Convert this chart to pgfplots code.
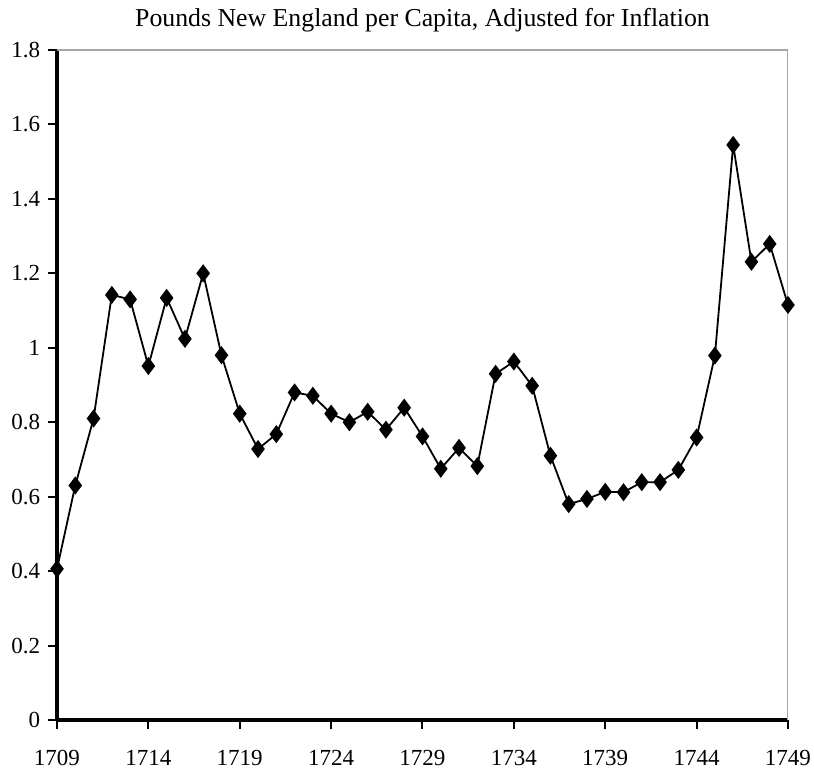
\documentclass[border=0pt]{standalone}
\usepackage{pgfplots}
\pgfplotsset{compat=1.18}
\usepackage{fontspec}
\setmainfont{Liberation Serif}
\usetikzlibrary{calc}

\pgfplotstableread{
year value
1709 0.406
1710 0.630
1711 0.810
1712 1.142
1713 1.130
1714 0.951
1715 1.134
1716 1.024
1717 1.200
1718 0.980
1719 0.823
1720 0.728
1721 0.768
1722 0.880
1723 0.871
1724 0.823
1725 0.800
1726 0.828
1727 0.780
1728 0.839
1729 0.762
1730 0.675
1731 0.731
1732 0.682
1733 0.930
1734 0.963
1735 0.898
1736 0.710
1737 0.580
1738 0.594
1739 0.613
1740 0.612
1741 0.639
1742 0.639
1743 0.672
1744 0.759
1745 0.979
1746 1.545
1747 1.231
1748 1.279
1749 1.115
}\pounds

\begin{document}
\begin{tikzpicture}
\fontsize{11.3}{13.5}\selectfont
\begin{axis}[
  width=365.5pt, height=335pt,
  scale only axis,
  xmin=1709, xmax=1749,
  ymin=0, ymax=1.8,
  xtick={1709,1714,...,1749},
  ytick={0,0.2,...,1.8},
  /pgf/number format/1000 sep={},
  /pgf/number format/assume math mode=true,
  ticklabel style={font=\fontsize{11.5}{13.5}\selectfont},
  xticklabel style={yshift=-6.5pt},
  axis x line*=bottom, axis y line*=left,
  axis line style={line width=1.6pt, -},
  tick align=outside,
  major tick length=4.5pt,
  tick style={line width=1pt, black},
  title={Pounds New England per Capita, Adjusted for Inflation},
  title style={at={(0.5,1)}, anchor=base, yshift=5.5pt,
    font=\fontsize{12.9}{15}\selectfont},
]
\draw[gray!70, line width=1pt] (rel axis cs:0,1) -- (rel axis cs:1,1) -- (rel axis cs:1,0);
\addplot[black, line width=0.9pt, mark=diamond*, mark size=3.8pt,
  mark options={solid, fill=black}] table[x=year, y=value] {\pounds};
\end{axis}
\pgfresetboundingbox
\path ($(current axis.south west)+(-28.5pt,-26pt)$) rectangle
      ($(current axis.north east)+(13pt,25pt)$);
\end{tikzpicture}
\end{document}
